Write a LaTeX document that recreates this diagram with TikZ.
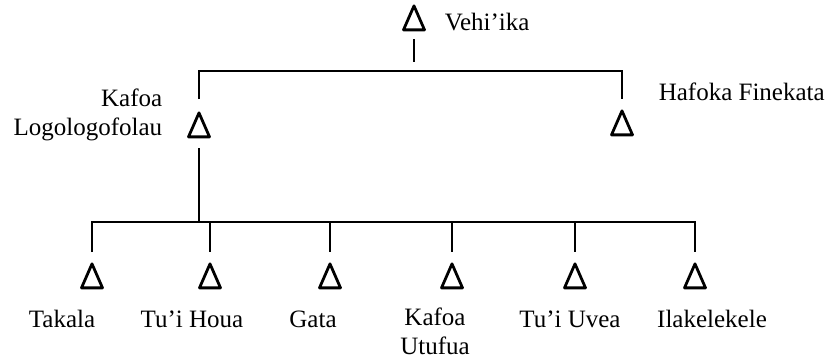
\documentclass[tikz,border=0pt]{standalone}
\usepackage{fontspec}
\setmainfont{Liberation Serif}
\usetikzlibrary{shapes.geometric}

\begin{document}
\begin{tikzpicture}[x=1pt, y=-1pt, line width=1.6pt,
	person/.style={draw, isosceles triangle, shape border rotate=90,
		isosceles triangle stretches, minimum width=21pt, minimum height=24pt,
		inner sep=0pt, line width=2.8pt, line join=round},
	namebox/.style={font=\fontsize{25}{29}\selectfont, inner sep=0pt},
	link/.style={shorten <=8pt, shorten >=9pt}]
	\useasboundingbox (0,0) rectangle (827,360);

	\node[person] (V) at (414,23) {};
	\node[person] (K) at (199,130) {};
	\node[person] (H) at (622,128) {};

	\node[person] (Ta) at (92,281) {};
	\node[person] (Ho) at (210,281) {};
	\node[person] (Ga) at (330,281) {};
	\node[person] (Ut) at (452,281) {};
	\node[person] (Uv) at (575,281) {};
	\node[person] (Il) at (695,281) {};

	\node[namebox, anchor=base west] (Vn) at (444,30) {Vehi’ika};
	\node[namebox, anchor=north east, align=right] (Kn) at (163,88) {Kafoa\\Logologofolau};
	\node[namebox, anchor=base west] (Hn) at (658,100) {Hafoka Finekata};

	\node[namebox, anchor=base] (Tan) at (62,327) {Takala};
	\node[namebox, anchor=base] (Hon) at (192,327) {Tu’i Houa};
	\node[namebox, anchor=base] (Gan) at (313,327) {Gata};
	\node[namebox, anchor=north, align=center] (Utn) at (435,307.5) {Kafoa\\Utufua};
	\node[namebox, anchor=base] (Uvn) at (570,327) {Tu’i Uvea};
	\node[namebox, anchor=base] (Iln) at (712,327) {Ilakelekele};

	\coordinate (T) at (414,71);
	\coordinate (B) at (199,222);

	\draw[link] (V) -- (T);
	\draw[shorten <=10pt, shorten >=8pt] (K) |- (T) -| (H);
	\draw[shorten <=10pt] (K) -- (B);
	\draw[shorten <=8pt, shorten >=8pt] (Ta) |- (B) -| (Il);
	\foreach \n in {Ho,Ga,Ut,Uv}
		\draw[shorten >=8pt] (B -| \n) -- (\n);
\end{tikzpicture}
\end{document}
